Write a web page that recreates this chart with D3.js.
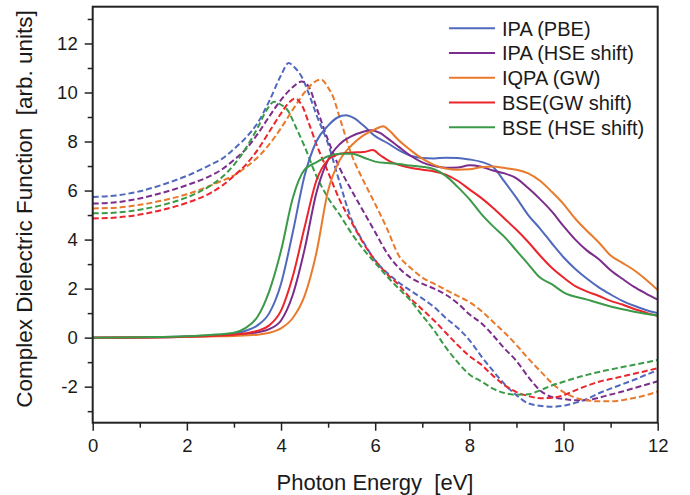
<!DOCTYPE html>
<html><head><meta charset="utf-8">
<script src="https://cdn.jsdelivr.net/npm/d3@7"></script>
<style>
html,body{margin:0;padding:0;background:#fff;}
svg{display:block;font-family:"Liberation Sans",Arial,Helvetica,sans-serif;}
</style></head>
<body><svg id="chart" width="690" height="495"></svg>
<script>
// ---- data ----
const seriesNames = ["IPA (PBE)", "IPA (HSE shift)", "IQPA (GW)", "BSE(GW shift)", "BSE (HSE shift)"];
const seriesColors = ["#5069bd", "#7b2d8c", "#e97a2c", "#ea252c", "#3a9a48"];
const xTicks = [0, 2, 4, 6, 8, 10, 12];
const yTicks = [-2, 0, 2, 4, 6, 8, 10, 12];

// imaginary part (solid lines): [energy eV, value]
const ipaPbeIm = [[0,0],[1,0.01],[2,0.05],[2.5,0.09],[3,0.15],[3.25,0.28],[3.5,0.5],[3.75,1.0],[4,2.2],[4.25,4.3],[4.5,6.6],[4.75,8.0],[5,8.65],[5.2,8.98],[5.38,9.07],[5.55,8.95],[5.75,8.65],[6,8.22],[6.25,7.95],[6.5,7.65],[6.75,7.42],[7,7.33],[7.25,7.31],[7.5,7.34],[7.75,7.33],[8,7.27],[8.25,7.17],[8.5,6.97],[8.75,6.35],[9,5.7],[9.25,5.0],[9.5,4.45],[9.75,3.85],[10,3.28],[10.25,2.8],[10.5,2.4],[10.75,2.05],[11,1.76],[11.25,1.5],[11.5,1.3],[11.75,1.13],[12,1.0]];
const ipaHseIm = [[0,0],[1,0.01],[2,0.04],[2.5,0.07],[3,0.1],[3.25,0.14],[3.5,0.22],[3.75,0.35],[4,0.7],[4.25,1.75],[4.5,3.6],[4.75,5.9],[5,7.25],[5.25,7.9],[5.5,8.22],[5.75,8.4],[5.92,8.46],[6.1,8.35],[6.25,8.15],[6.5,7.78],[6.75,7.42],[7,7.15],[7.25,7.0],[7.5,6.93],[7.75,6.94],[8,7.03],[8.25,6.97],[8.5,6.82],[8.75,6.7],[9,6.5],[9.25,6.1],[9.5,5.65],[9.75,5.15],[10,4.55],[10.25,4.0],[10.5,3.55],[10.75,3.2],[11,2.75],[11.25,2.4],[11.5,2.07],[11.75,1.8],[12,1.55]];
const iqpaGwIm = [[0,0],[1,0.01],[2,0.03],[2.5,0.05],[3,0.07],[3.5,0.12],[3.75,0.2],[4,0.38],[4.25,0.8],[4.5,1.7],[4.75,3.45],[5,6.0],[5.25,7.25],[5.5,7.85],[5.75,8.25],[6,8.5],[6.17,8.62],[6.3,8.45],[6.5,8.05],[6.75,7.65],[7,7.3],[7.25,7.05],[7.5,6.9],[7.75,6.85],[8,6.87],[8.25,6.95],[8.5,6.98],[8.75,6.92],[9,6.85],[9.25,6.7],[9.5,6.4],[9.75,5.95],[10,5.45],[10.25,4.85],[10.5,4.35],[10.75,3.88],[11,3.35],[11.25,3.05],[11.5,2.75],[11.75,2.37],[12,1.94]];
const bseGwIm = [[0,0],[1,0.01],[2,0.04],[2.5,0.07],[3,0.12],[3.25,0.18],[3.5,0.28],[3.75,0.5],[4,1.1],[4.25,2.5],[4.5,4.5],[4.75,6.4],[5,7.25],[5.25,7.5],[5.5,7.55],[5.75,7.57],[5.95,7.65],[6.1,7.45],[6.3,7.2],[6.5,7.05],[6.75,6.93],[7,6.85],[7.25,6.78],[7.5,6.65],[7.75,6.4],[8,6.05],[8.25,5.7],[8.5,5.3],[8.75,4.85],[9,4.4],[9.25,3.9],[9.5,3.35],[9.75,2.85],[10,2.45],[10.25,2.1],[10.5,1.88],[10.75,1.7],[11,1.5],[11.25,1.35],[11.5,1.17],[11.75,1.02],[12,0.88]];
const bseHseIm = [[0,0],[1,0.02],[2,0.06],[2.5,0.11],[3,0.2],[3.25,0.4],[3.5,0.85],[3.75,1.9],[4,3.55],[4.25,5.7],[4.5,6.85],[4.75,7.15],[5,7.4],[5.25,7.5],[5.5,7.5],[5.75,7.35],[6,7.18],[6.25,7.12],[6.5,7.08],[6.75,7.02],[7,6.97],[7.25,6.87],[7.5,6.6],[7.75,6.15],[8,5.65],[8.25,5.05],[8.5,4.55],[8.75,4.1],[9,3.55],[9.25,3.0],[9.5,2.45],[9.75,2.18],[10,1.85],[10.5,1.55],[11,1.27],[11.5,1.06],[12,0.9]];

// real part (dashed lines): [energy eV, value]
const ipaPbeRe = [[0,5.74],[0.5,5.8],[1,5.97],[1.5,6.25],[2,6.6],[2.5,7.05],[2.75,7.3],[3,7.7],[3.25,8.15],[3.5,8.75],[3.75,9.65],[4,10.7],[4.16,11.2],[4.3,11.0],[4.45,10.6],[4.6,9.9],[4.75,9.1],[5,7.9],[5.25,6.3],[5.5,4.8],[5.75,3.9],[6,3.15],[6.25,2.65],[6.5,2.25],[6.75,1.92],[7,1.6],[7.25,1.25],[7.5,0.8],[7.75,0.4],[8,-0.1],[8.25,-0.75],[8.5,-1.35],[8.75,-1.9],[9,-2.35],[9.25,-2.68],[9.5,-2.78],[9.75,-2.82],[10,-2.78],[10.25,-2.66],[10.5,-2.5],[10.75,-2.27],[11,-2.08],[11.25,-1.9],[11.5,-1.72],[11.75,-1.52],[12,-1.33]];
const ipaHseRe = [[0,5.47],[0.5,5.52],[1,5.68],[1.5,5.92],[2,6.22],[2.5,6.6],[2.75,6.87],[3,7.25],[3.25,7.68],[3.5,8.3],[3.75,9.02],[4,9.7],[4.25,10.22],[4.44,10.45],[4.6,10.2],[4.75,9.4],[5,8.05],[5.25,6.9],[5.5,6.0],[5.75,5.15],[6,4.3],[6.25,3.45],[6.5,2.85],[6.75,2.45],[7,2.2],[7.25,2.0],[7.5,1.75],[7.75,1.4],[8,0.95],[8.25,0.6],[8.5,0.1],[8.75,-0.45],[9,-0.95],[9.25,-1.6],[9.5,-2.15],[9.75,-2.42],[10,-2.5],[10.25,-2.55],[10.5,-2.55],[10.75,-2.45],[11,-2.32],[11.25,-2.2],[11.5,-2.06],[11.75,-1.92],[12,-1.78]];
const iqpaGwRe = [[0,5.27],[0.5,5.3],[1,5.42],[1.5,5.6],[2,5.85],[2.5,6.2],[2.75,6.4],[3,6.62],[3.25,6.95],[3.5,7.35],[3.75,7.88],[4,8.55],[4.25,9.3],[4.5,10.0],[4.7,10.42],[4.85,10.53],[5,10.2],[5.1,9.85],[5.25,8.95],[5.5,7.45],[5.75,6.4],[6,5.45],[6.25,4.45],[6.5,3.35],[6.75,2.85],[7,2.45],[7.25,2.2],[7.5,1.95],[7.75,1.7],[8,1.45],[8.25,1.1],[8.5,0.65],[8.75,0.2],[9,-0.3],[9.25,-0.85],[9.5,-1.35],[9.75,-1.85],[10,-2.22],[10.25,-2.45],[10.5,-2.55],[10.75,-2.6],[11,-2.6],[11.25,-2.55],[11.5,-2.46],[11.75,-2.35],[12,-2.2]];
const bseGwRe = [[0,4.86],[0.5,4.9],[1,5.02],[1.5,5.22],[2,5.5],[2.5,5.9],[2.75,6.2],[3,6.6],[3.25,7.05],[3.5,7.65],[3.75,8.4],[4,9.15],[4.15,9.55],[4.3,9.75],[4.45,9.45],[4.6,8.7],[4.75,7.9],[5,6.75],[5.25,5.6],[5.5,4.7],[5.75,3.85],[6,3.15],[6.25,2.6],[6.5,2.15],[6.75,1.6],[7,1.15],[7.25,0.7],[7.5,0.2],[7.75,-0.3],[8,-0.75],[8.25,-1.1],[8.5,-1.55],[8.75,-1.95],[9,-2.22],[9.25,-2.38],[9.5,-2.47],[9.75,-2.45],[10,-2.35],[10.25,-2.15],[10.5,-1.96],[10.75,-1.8],[11,-1.69],[11.25,-1.58],[11.5,-1.47],[11.75,-1.36],[12,-1.25]];
const bseHseRe = [[0,5.07],[0.5,5.1],[1,5.22],[1.5,5.42],[2,5.72],[2.5,6.2],[2.75,6.55],[3,7.05],[3.25,7.72],[3.5,8.55],[3.7,9.3],[3.85,9.62],[4,9.5],[4.15,9.25],[4.3,8.65],[4.5,7.8],[4.75,6.6],[5,5.7],[5.25,5.0],[5.5,4.25],[5.75,3.6],[6,3.05],[6.25,2.5],[6.5,2.0],[6.75,1.52],[7,0.9],[7.25,0.3],[7.5,-0.4],[7.75,-1.0],[8,-1.5],[8.25,-1.78],[8.5,-2.08],[8.75,-2.26],[9,-2.33],[9.25,-2.31],[9.5,-2.15],[9.75,-1.95],[10,-1.8],[10.25,-1.65],[10.5,-1.52],[10.75,-1.4],[11,-1.3],[11.25,-1.2],[11.5,-1.11],[11.75,-1.01],[12,-0.91]];

const solidSeries = [ipaPbeIm, ipaHseIm, iqpaGwIm, bseGwIm, bseHseIm];
const dashedSeries = [ipaPbeRe, ipaHseRe, iqpaGwRe, bseGwRe, bseHseRe];

// ---- layout ----
const svg = d3.select("#chart");
const L = 92.7, R = 657.7, T = 6.7, B = 422.7;
const x = d3.scaleLinear().domain([0, 12]).range([L, R]);
const y = d3.scaleLinear().domain([-3.47, 13.5]).range([B, T]);
const fmt = d => String(d);

const line = d3.line().x(d => x(d[0])).y(d => y(d[1])).curve(d3.curveMonotoneX);

const plot = svg.append("g");
dashedSeries.forEach((s, i) => {
  plot.append("path").attr("d", line(s)).attr("fill", "none")
    .attr("stroke", seriesColors[i]).attr("stroke-width", 2)
    .attr("stroke-dasharray", "6,3");
});
solidSeries.forEach((s, i) => {
  plot.append("path").attr("d", line(s)).attr("fill", "none")
    .attr("stroke", seriesColors[i]).attr("stroke-width", 2);
});

// axes
const axisColor = "#222";
const xMinor = d3.range(1, 12, 2);
const yMinor = d3.range(-3, 14, 2);

const gx = svg.append("g").attr("transform", `translate(0,${B})`)
  .call(d3.axisBottom(x).tickValues(xTicks).tickFormat(fmt).tickSize(8).tickPadding(8));
const gxm = svg.append("g").attr("transform", `translate(0,${B})`)
  .call(d3.axisBottom(x).tickValues(xMinor).tickFormat("").tickSize(5));
const gy = svg.append("g").attr("transform", `translate(${L},0)`)
  .call(d3.axisLeft(y).tickValues(yTicks).tickFormat(fmt).tickSize(8).tickPadding(7));
const gym = svg.append("g").attr("transform", `translate(${L},0)`)
  .call(d3.axisLeft(y).tickValues(yMinor).tickFormat("").tickSize(5));

[gx, gxm, gy, gym].forEach(g => {
  g.select(".domain").remove();
  g.selectAll("line").attr("stroke", axisColor).attr("stroke-width", 1.5);
  g.selectAll("text").attr("fill", "#1a1a1a").style("font-size", "18.5px")
   .style("font-family", '"Liberation Sans", Arial, sans-serif');
});

// frame
svg.append("rect").attr("x", L).attr("y", T).attr("width", R - L).attr("height", B - T)
  .attr("fill", "none").attr("stroke", axisColor).attr("stroke-width", 2);

// axis titles
svg.append("text").attr("x", 375).attr("y", 490).attr("text-anchor", "middle")
  .style("font-size", "22px").style("white-space", "pre").attr("fill", "#1a1a1a")
  .text("Photon Energy  [eV]");
svg.append("text").attr("transform", "translate(31.5,209) rotate(-90)").attr("text-anchor", "middle")
  .style("font-size", "22.5px").style("white-space", "pre").attr("fill", "#1a1a1a")
  .text("Complex Dielectric Function  [arb. units]");

// legend
const lg = svg.append("g");
seriesNames.forEach((n, i) => {
  const yy = 28.3 + i * 24.75;
  lg.append("line").attr("x1", 449).attr("x2", 495).attr("y1", yy).attr("y2", yy)
    .attr("stroke", seriesColors[i]).attr("stroke-width", 2);
  lg.append("text").attr("x", 502).attr("y", yy).attr("dy", "0.36em")
    .style("font-size", "20px").attr("fill", "#1a1a1a").text(n);
});
</script>
</body></html>
